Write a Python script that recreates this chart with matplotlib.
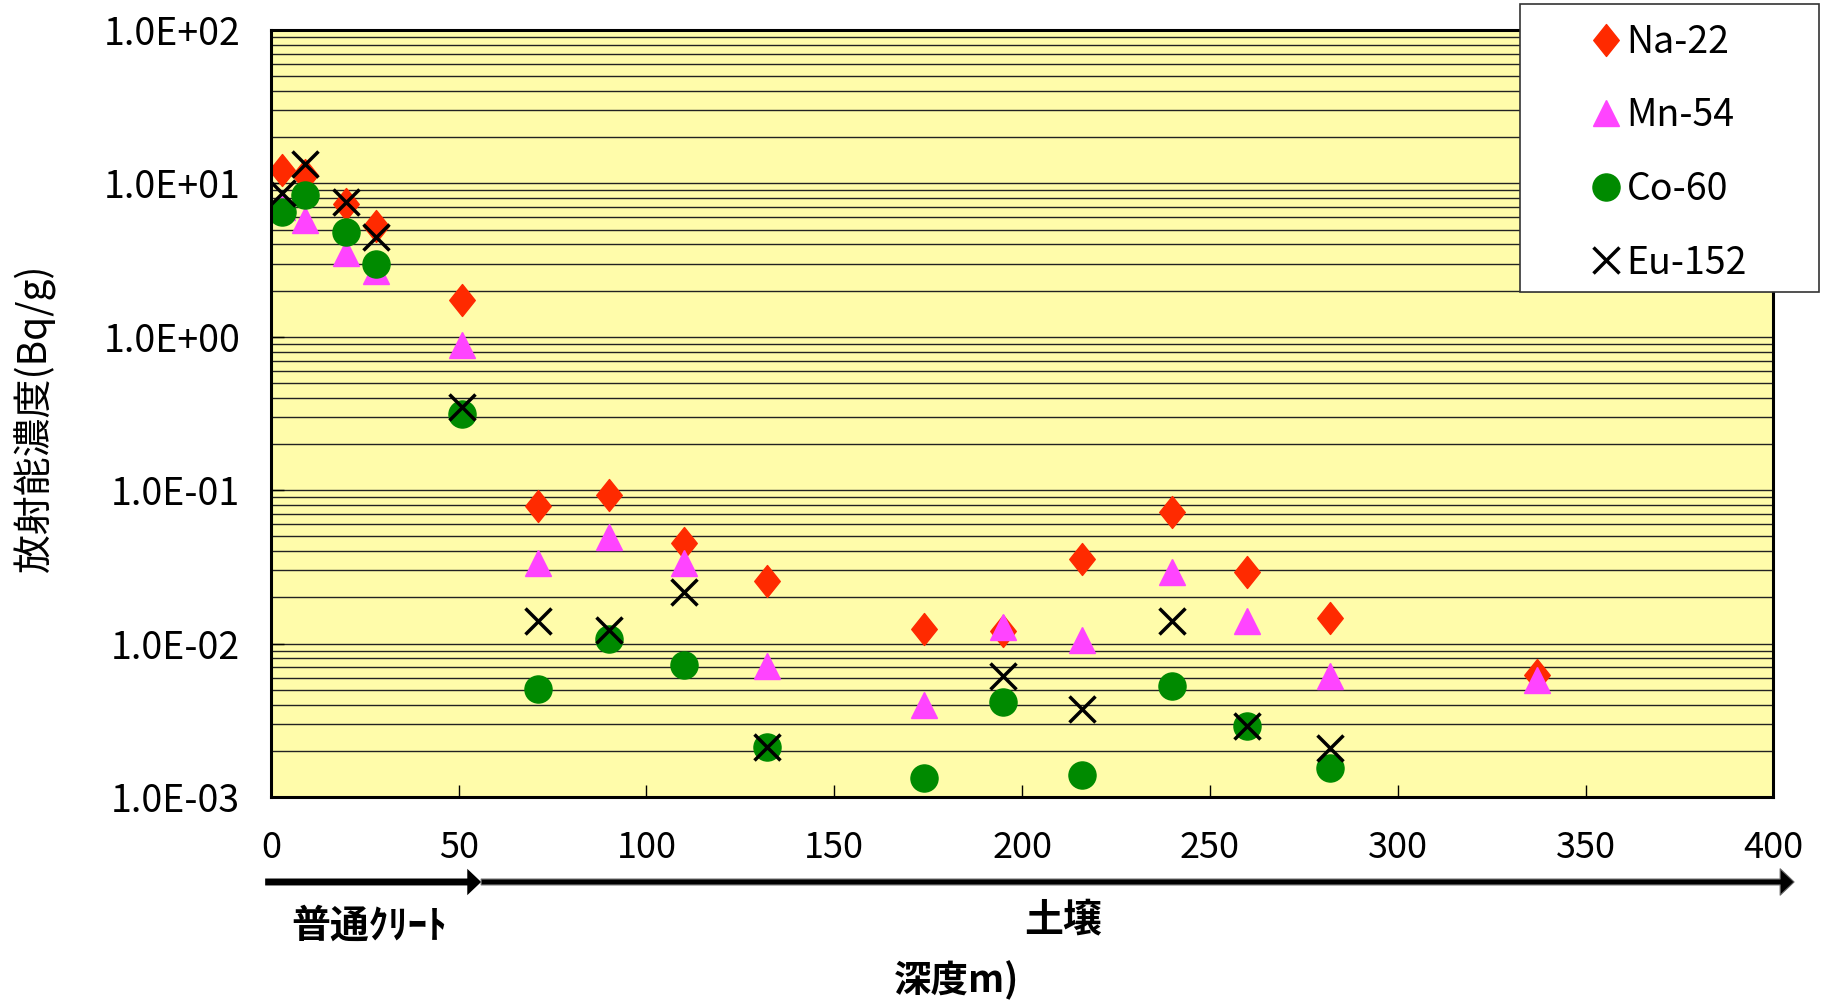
import numpy as np
import matplotlib
matplotlib.use("Agg")
import matplotlib.pyplot as plt
from matplotlib.path import Path
from matplotlib.patches import Rectangle

plt.rcParams['font.family'] = ['Noto Sans CJK JP', 'DejaVu Sans']

# depth (x) and activity per nuclide; nan = not plotted
depth = [3, 9, 20, 28, 51, 71, 90, 110, 132, 174, 195, 216, 240, 260, 282, 337]
na22 = [12.2, 11.3, 7.3, 5.25, 1.75, 0.079, 0.0927, 0.0454, 0.0255, 0.0125,
        0.0121, 0.0355, 0.0726, 0.0294, 0.0146, 0.0062]
mn54 = [7.0, 5.8, 3.5, 2.7, 0.89, 0.0337, 0.0495, 0.0337, 0.00716, 0.00396,
        0.0129, 0.0105, 0.0294, 0.0141, 0.00612, 0.0058]
co60 = [6.5, 8.4, 4.8, 3.0, 0.313, 0.00505, 0.0107, 0.00728, 0.00211, 0.00134,
        0.00417, 0.00139, 0.00532, 0.0029, 0.00155, np.nan]
eu152 = [8.7, 13.3, 7.6, 4.5, 0.348, 0.0141, 0.0123, 0.0218, 0.00211, np.nan,
         0.00612, 0.00376, 0.0141, 0.0029, 0.00208, np.nan]

xticks = [0, 50, 100, 150, 200, 250, 300, 350, 400]
yticks = [1e-3, 1e-2, 1e-1, 1e0, 1e1, 1e2]
ytick_labels = ["1.0E-03", "1.0E-02", "1.0E-01", "1.0E+00", "1.0E+01", "1.0E+02"]

# tall diamond like the excel marker
diamond = Path([(0, 1), (0.8, 0), (0, -1), (-0.8, 0), (0, 1)],
               [Path.MOVETO, Path.LINETO, Path.LINETO, Path.LINETO, Path.CLOSEPOLY])

fig = plt.figure(figsize=(18.22, 10.01), dpi=100)
ax = fig.add_axes([270.8 / 1822, 1 - 797 / 1001, 1502.6 / 1822, 767 / 1001])
ax.set_facecolor('#FFFCAA')

ax.set_yscale('log')
ax.set_ylim(1e-3, 1e2)
ax.set_xlim(0, 400)

# grid on every major and minor log step
ax.grid(True, which='both', axis='y', color='#222222', lw=1.0)
ax.set_axisbelow(True)

ax.plot(depth, na22, ls='none', marker=diamond, ms=23, color='#FF2A00', label='Na-22')
ax.plot(depth, mn54, ls='none', marker='^', ms=19, color='#FF44FF', label='Mn-54')
ax.plot(depth, co60, ls='none', marker='o', ms=19.5, color='#008A00', label='Co-60')
ax.plot(depth, eu152, ls='none', marker='x', ms=19, mew=2.5, color='black', label='Eu-152')

ax.set_xticks(xticks)
ax.set_xticklabels([str(t) for t in xticks])
ax.set_yticks(yticks)
ax.set_yticklabels(ytick_labels)
ax.tick_params(axis='x', direction='in', length=9, width=1, labelsize=26, pad=24)
ax.tick_params(axis='y', which='major', direction='in', length=9, width=1, labelsize=27, pad=22)
ax.tick_params(axis='y', which='minor', length=0)
for sp in ax.spines.values():
    sp.set_linewidth(2.2)
    sp.set_color('black')

ax.set_ylabel('放射能濃度(Bq/g)', fontsize=28, va='center')
ax.yaxis.set_label_coords(-0.157, 0.494)
ax.set_xlabel('深度m)', fontsize=27, fontweight='bold', va='center')
ax.xaxis.set_label_coords(0.4567, -0.2394)

# layer arrows under the axis
ya = -0.1108
ax.annotate('', xy=(56, ya), xytext=(-1.5, ya), xycoords=('data', 'axes fraction'),
            arrowprops=dict(arrowstyle='simple,head_length=1.0,head_width=1.9,tail_width=0.5',
                            mutation_scale=10, fc='black', ec='none', shrinkA=0, shrinkB=0),
            annotation_clip=False)
ax.annotate('', xy=(405.5, ya), xytext=(56, ya), xycoords=('data', 'axes fraction'),
            arrowprops=dict(arrowstyle='simple,head_length=1.0,head_width=1.9,tail_width=0.42',
                            mutation_scale=10, fc='black', ec='#666666', lw=0.8,
                            shrinkA=0, shrinkB=0),
            annotation_clip=False)

fig.text(369 / 1822, 1 - 926 / 1001, '普通ｸﾘｰﾄ', fontsize=28, fontweight='bold',
         ha='center', va='center')
fig.text(1063 / 1822, 1 - 920 / 1001, '土壌', fontsize=28, fontweight='bold',
         ha='center', va='center')

# legend box drawn on its own so its padding matches the original
fig.add_artist(Rectangle((1520 / 1822, 1 - 292 / 1001), 299 / 1822, 288.5 / 1001,
                         transform=fig.transFigure, fc='white', ec='#333333',
                         lw=1.2, zorder=4))
leg = fig.legend(loc='upper left', bbox_to_anchor=(1591 / 1822, 1 - 23 / 1001),
                 fontsize=27, frameon=False, numpoints=1, handlelength=0.8,
                 handletextpad=0.15, borderpad=0, labelspacing=0.92, borderaxespad=0)
leg.set_zorder(5)

fig.savefig('out.png', dpi=100)
